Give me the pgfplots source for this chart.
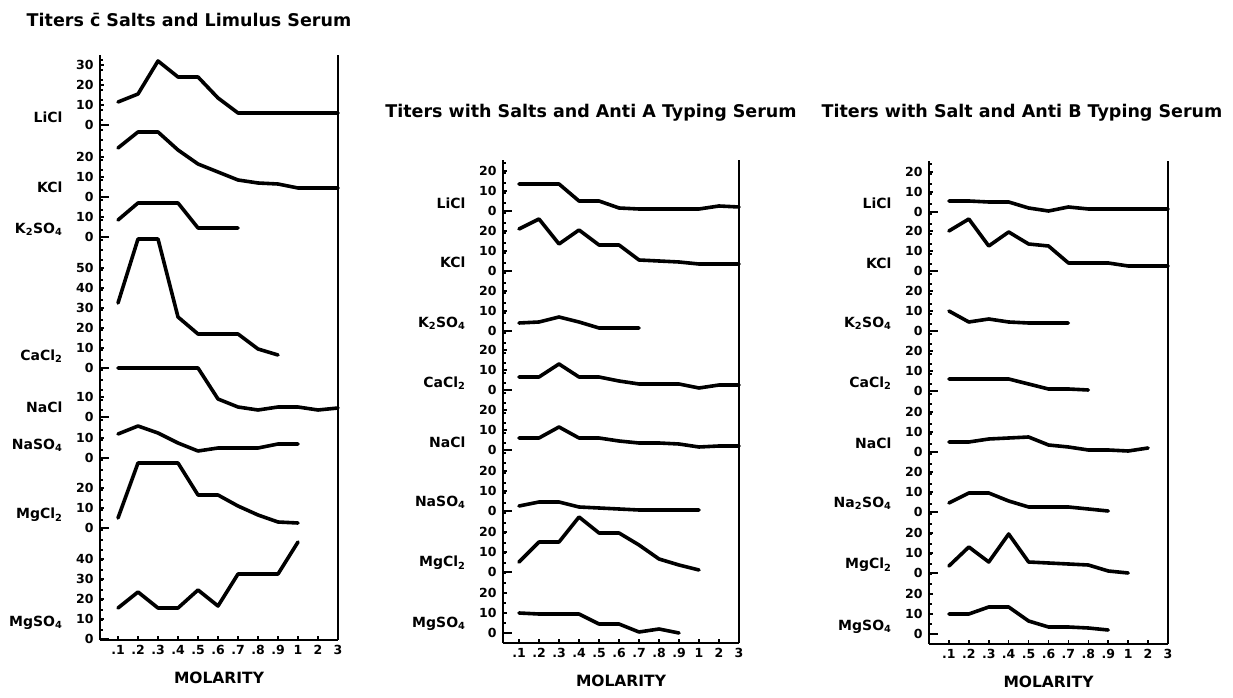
\documentclass[border=0pt]{standalone}
\usepackage{fontspec}
\setmainfont{DejaVu Sans}
\usepackage{pgfplots}
\pgfplotsset{compat=1.18}

% one axis per panel; y runs in pt above the x axis, each salt drawn at 2pt per titer unit above its own zero
\pgfplotsset{
  panel/.style={
    scale only axis, clip=false,
    axis x line*=bottom, axis y line*=left,
    axis line style={line width=2.2pt},
    ymin=0,
    xtick={1,...,12},
    xticklabels={.1,.2,.3,.4,.5,.6,.7,.8,.9,1,2,3},
    tick align=inside,
    major tick length=4pt, minor tick length=3pt,
    every tick/.style={black, line width=1.6pt},
    tick label style={font=\fontsize{12.5}{13}\selectfont\bfseries},
    yticklabel style={xshift=-3pt},
    xticklabel style={yshift=-2pt},
    extra y tick labels={},
    extra y tick style={major tick length=9pt},
  },
  salt/.style={black, line width=3.6pt, line join=round, line cap=round,
    y filter/.expression={2*y+#1}},
}
\newcommand\saltlabel[2]{\node[anchor=east, font=\fontsize{14}{15}\selectfont\bfseries]
  at ([xshift=-34pt]axis cs:\pgfkeysvalueof{/pgfplots/xmin},#1) {#2};}
\newcommand\molarity{\node[font=\fontsize{15.5}{16}\selectfont\bfseries]
  at ([yshift=-38pt]rel axis cs:0.5,0) {MOLARITY};}
\newcommand\ttl{\fontsize{17.5}{19}\selectfont\bfseries}

\begin{document}
\begin{tikzpicture}
\useasboundingbox (0,0) rectangle (1233pt,698pt);

\node[font=\ttl] at (189pt,678pt) {Titers c̄ Salts and Limulus Serum};
\node[font=\ttl] at (591pt,585pt) {Titers with Salts and Anti A Typing Serum};
\node[font=\ttl] at (1022pt,585pt) {Titers with Salt and Anti B Typing Serum};

% ---------- Limulus serum
\begin{axis}[panel, at={(100pt,58pt)}, anchor=south west,
  width=238pt, height=585pt, xmin=0.1, xmax=12, ymax=585,
  ytick={1,21,41,61,81,112,132,152,182,202,223,243,272,292,312,332,352,372,403,423,443,463,483,515,535,555,575},
  yticklabels={0,10,20,30,40,0,10,20,0,10,0,10,0,10,20,30,40,50,0,10,0,10,20,0,10,20,30},
  minor ytick={0,10,...,580},
  extra y ticks={1,112,182,223,272,403,443,515}]
\addplot[salt=515] coordinates {(1,11.5)(2,15.5)(3,32)(4,24)(5,24)(6,13.5)(7,6)(8,6)(9,6)(10,6)(11,6)(12,6)};
\addplot[salt=443] coordinates {(1,24.5)(2,32.5)(3,32.5)(4,23.5)(5,16.5)(6,12.5)(7,8.5)(8,7)(9,6.5)(10,4.5)(11,4.5)(12,4.5)};
\addplot[salt=403] coordinates {(1,8.5)(2,17)(3,17)(4,17)(5,4.5)(6,4.5)(7,4.5)};
\addplot[salt=272] coordinates {(1,32.5)(2,64.5)(3,64.5)(4,25.5)(5,17)(6,17)(7,17)(8,9.5)(9,6.5)};
\addplot[salt=223] coordinates {(1,24.5)(2,24.5)(3,24.5)(4,24.5)(5,24.5)(6,9)(7,5)(8,3.5)(9,5)(10,5)(11,3.5)(12,4.5)};
\addplot[salt=182] coordinates {(1,12)(2,16)(3,12.5)(4,7.5)(5,3.5)(6,5)(7,5)(8,5)(9,7)(10,7)};
\addplot[salt=112] coordinates {(1,5)(2,32.5)(3,32.5)(4,32.5)(5,16.5)(6,16.5)(7,11)(8,6.5)(9,3)(10,2.5)};
\addplot[salt=1] coordinates {(1,15.5)(2,23.5)(3,15.5)(4,15.5)(5,24.5)(6,16.5)(7,32.5)(8,32.5)(9,32.5)(10,48.5)};
\draw[line width=2.2pt] (rel axis cs:1,0) -- (rel axis cs:1,1);
\saltlabel{523}{LiCl}
\saltlabel{453}{KCl}
\saltlabel{411}{K\textsubscript{2}SO\textsubscript{4}}
\saltlabel{284}{CaCl\textsubscript{2}}
\saltlabel{233}{NaCl}
\saltlabel{195}{NaSO\textsubscript{4}}
\saltlabel{125}{MgCl\textsubscript{2}}
\saltlabel{17}{MgSO\textsubscript{4}}
\molarity
\end{axis}

% ---------- Anti A typing serum
\begin{axis}[panel, at={(503pt,55pt)}, anchor=south west,
  width=236pt, height=483pt, xmin=0.2, xmax=12, ymax=483,
  ytick={10,30,50,71,91,111,132,152,172,193,213,233,253,273,293,312,332,352,372,392,412,432,452,472},
  yticklabels={0,10,20,0,10,20,0,10,20,0,10,20,0,10,20,0,10,20,0,10,20,0,10,20},
  minor ytick={0,10,...,480},
  extra y ticks={10,71,132,193,253,312,372,432}]
\addplot[salt=432] coordinates {(1,13.5)(2,13.5)(3,13.5)(4,5)(5,5)(6,1.5)(7,1)(8,1)(9,1)(10,1)(11,2.5)(12,2)};
\addplot[salt=372] coordinates {(1,21)(2,26)(3,13.5)(4,20.5)(5,13)(6,13)(7,5.5)(8,5)(9,4.5)(10,3.5)(11,3.5)(12,3.5)};
\addplot[salt=312] coordinates {(1,4)(2,4.5)(3,7)(4,4.5)(5,1.5)(6,1.5)(7,1.5)};
\addplot[salt=253] coordinates {(1,6.5)(2,6.5)(3,13)(4,6.5)(5,6.5)(6,4.5)(7,3)(8,3)(9,3)(10,1)(11,2.5)(12,2.5)};
\addplot[salt=193] coordinates {(1,6)(2,6)(3,11.5)(4,6)(5,6)(6,4.5)(7,3.5)(8,3.5)(9,3)(10,1.5)(11,2)(12,2)};
\addplot[salt=132] coordinates {(1,2.5)(2,4.5)(3,4.5)(4,2)(5,1.5)(6,1)(7,0.5)(8,0.5)(9,0.5)(10,0.5)};
\addplot[salt=71] coordinates {(1,5)(2,15)(3,15)(4,27.5)(5,19.5)(6,19.5)(7,13.5)(8,6.5)(9,3.5)(10,1)};
\addplot[salt=10] coordinates {(1,10)(2,9.5)(3,9.5)(4,9.5)(5,4.5)(6,4.5)(7,0.5)(8,2)(9,0)};
\draw[line width=2.2pt] (rel axis cs:1,0) -- (rel axis cs:1,1);
\saltlabel{440}{LiCl}
\saltlabel{381}{KCl}
\saltlabel{320}{K\textsubscript{2}SO\textsubscript{4}}
\saltlabel{260}{CaCl\textsubscript{2}}
\saltlabel{201}{NaCl}
\saltlabel{141}{NaSO\textsubscript{4}}
\saltlabel{80}{MgCl\textsubscript{2}}
\saltlabel{19}{MgSO\textsubscript{4}}
\molarity
\end{axis}

% ---------- Anti B typing serum
\begin{axis}[panel, at={(929pt,54pt)}, anchor=south west,
  width=239pt, height=483pt, xmin=0, xmax=12, ymax=483,
  ytick={10,30,50,71,91,111,132,152,172,192,212,232,253,273,293,313,333,353,373,393,413,432,452,472},
  yticklabels={0,10,20,0,10,20,0,10,20,0,10,20,0,10,20,0,10,20,0,10,20,0,10,20},
  minor ytick={0,10,...,480},
  extra y ticks={10,71,132,192,253,313,373,432}]
\addplot[salt=432] coordinates {(1,5.5)(2,5.5)(3,5)(4,5)(5,2)(6,0.5)(7,2.5)(8,1.5)(9,1.5)(10,1.5)(11,1.5)(12,1.5)};
\addplot[salt=373] coordinates {(1,20)(2,26)(3,12.5)(4,19.5)(5,13.5)(6,12.5)(7,4)(8,4)(9,4)(10,2.5)(11,2.5)(12,2.5)};
\addplot[salt=313] coordinates {(1,10)(2,4.5)(3,6)(4,4.5)(5,4)(6,4)(7,4)};
\addplot[salt=253] coordinates {(1,6)(2,6)(3,6)(4,6)(5,3.5)(6,1)(7,1)(8,0.5)};
\addplot[salt=192] coordinates {(1,5)(2,5)(3,6.5)(4,7)(5,7.5)(6,3.5)(7,2.5)(8,1)(9,1)(10,0.5)(11,2)};
\addplot[salt=132] coordinates {(1,4.5)(2,9.5)(3,9.5)(4,5.5)(5,2.5)(6,2.5)(7,2.5)(8,1.5)(9,0.5)};
\addplot[salt=71] coordinates {(1,3.5)(2,13)(3,5.5)(4,19.5)(5,5.5)(6,5)(7,4.5)(8,4)(9,1)(10,0)};
\addplot[salt=10] coordinates {(1,10)(2,10)(3,13.5)(4,13.5)(5,6.5)(6,3.5)(7,3.5)(8,3)(9,2)};
\draw[line width=2.2pt] (rel axis cs:1,0) -- (rel axis cs:1,1);
\saltlabel{441}{LiCl}
\saltlabel{381}{KCl}
\saltlabel{321}{K\textsubscript{2}SO\textsubscript{4}}
\saltlabel{261}{CaCl\textsubscript{2}}
\saltlabel{201}{NaCl}
\saltlabel{141}{Na\textsubscript{2}SO\textsubscript{4}}
\saltlabel{79}{MgCl\textsubscript{2}}
\saltlabel{17}{MgSO\textsubscript{4}}
\molarity
\end{axis}
\end{tikzpicture}
\end{document}
